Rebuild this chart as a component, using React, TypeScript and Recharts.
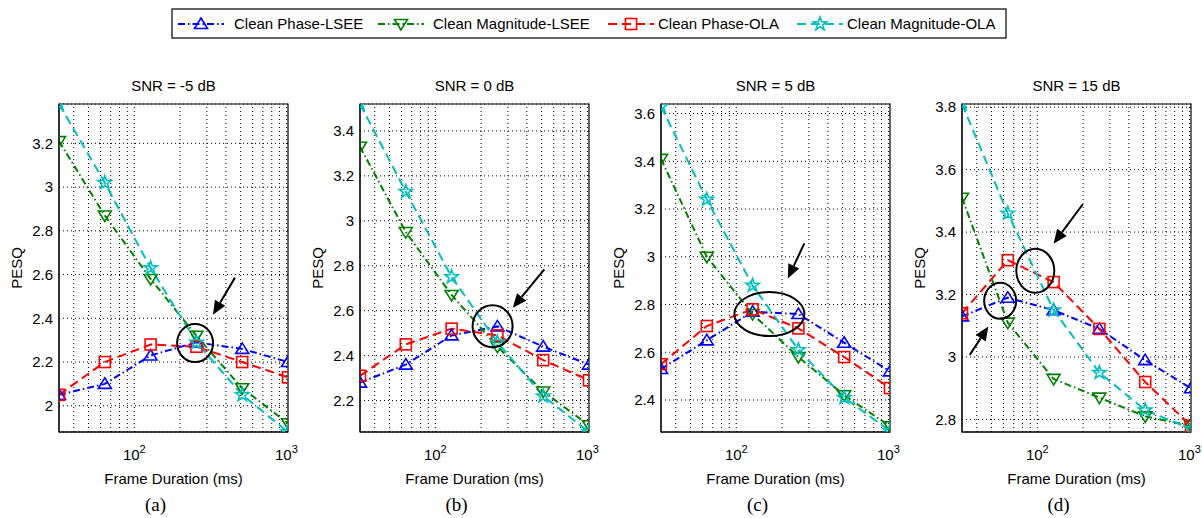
import { LineChart, Line, XAxis, YAxis, CartesianGrid, ReferenceLine, ReferenceDot, ReferenceArea } from 'recharts';

// frame durations (ms), log x axis
const FRAMES = [32, 64, 128, 256, 512, 1024];

const PANEL_TITLES = ['SNR = -5 dB', 'SNR = 0 dB', 'SNR = 5 dB', 'SNR = 15 dB'];
const PANEL_CAPTIONS = ['(a)', '(b)', '(c)', '(d)'];

// PESQ per panel (-5, 0, 5, 15 dB)
const PHASE_LSEE = [
  [2.05, 2.10, 2.23, 2.29, 2.26, 2.20],
  [2.28, 2.36, 2.49, 2.53, 2.44, 2.36],
  [2.53, 2.65, 2.77, 2.76, 2.64, 2.52],
  [3.13, 3.19, 3.15, 3.09, 2.99, 2.90],
];
const MAG_LSEE = [
  [3.21, 2.87, 2.58, 2.32, 2.08, 1.92],
  [3.33, 2.95, 2.67, 2.44, 2.24, 2.09],
  [3.41, 3.00, 2.76, 2.58, 2.42, 2.29],
  [3.51, 3.11, 2.93, 2.87, 2.81, 2.78],
];
const PHASE_OLA = [
  [2.05, 2.20, 2.28, 2.27, 2.20, 2.13],
  [2.31, 2.45, 2.52, 2.49, 2.38, 2.29],
  [2.55, 2.71, 2.78, 2.70, 2.58, 2.45],
  [3.14, 3.31, 3.24, 3.09, 2.92, 2.78],
];
const MAG_OLA = [
  [3.38, 3.02, 2.63, 2.29, 2.05, 1.88],
  [3.52, 3.13, 2.75, 2.46, 2.22, 2.06],
  [3.63, 3.24, 2.88, 2.61, 2.41, 2.27],
  [3.81, 3.46, 3.15, 2.95, 2.83, 2.77],
];

const Y_TICKS = [
  [2, 2.2, 2.4, 2.6, 2.8, 3, 3.2],
  [2.2, 2.4, 2.6, 2.8, 3, 3.2, 3.4],
  [2.4, 2.6, 2.8, 3, 3.2, 3.4, 3.6],
  [2.8, 3, 3.2, 3.4, 3.6, 3.8],
];
const Y_DOMAINS = [
  [1.88, 3.38],
  [2.06, 3.52],
  [2.266, 3.64],
  [2.76, 3.81],
];
const X_TICKS = [100, 1000];
const X_GRID = [40, 50, 60, 70, 80, 90, 100, 200, 300, 400, 500, 600, 700, 800, 900, 1000];

// highlight ellipses and arrows, in data coordinates
const ELLIPSES = [
  [{ x: 251, y: 2.287, rx: 18, ry: 19 }],
  [{ x: 238, y: 2.531, rx: 20, ry: 21 }],
  [{ x: 165, y: 2.76, rx: 35, ry: 22 }],
  [{ x: 97, y: 3.276, rx: 19, ry: 22 }, { x: 57, y: 3.18, rx: 16, ry: 18 }],
];
const ARROWS = [
  [{ from: [459, 2.586], to: [329, 2.416] }],
  [{ from: [521, 2.784], to: [323, 2.613] }],
  [{ from: [280, 3.056], to: [218, 2.909] }],
  [{ from: [199, 3.489], to: [128, 3.363] }, { from: [36, 3.007], to: [47.7, 3.098] }],
];

const SERIES = [
  { key: 'phaseLSEE', name: 'Clean Phase-LSEE', color: '#0000ff', dash: '7 3 1.5 3', marker: 'up', values: PHASE_LSEE },
  { key: 'magLSEE', name: 'Clean Magnitude-LSEE', color: '#008000', dash: '7 3 1.5 3', marker: 'down', values: MAG_LSEE },
  { key: 'phaseOLA', name: 'Clean Phase-OLA', color: '#ff0000', dash: '9 5', marker: 'square', values: PHASE_OLA },
  { key: 'magOLA', name: 'Clean Magnitude-OLA', color: '#00bfbf', dash: '9 5', marker: 'star', values: MAG_OLA },
];

const PLOT_LEFT = [59, 360, 661, 962];
const PLOT_W = 229;
const PLOT_TOP = 104;
const PLOT_BOTTOM = 432;
const Y_AXIS_W = 55;
const X_AXIS_H = 60;
const H = 518;

function starPoints(cx: number, cy: number, R: number, r: number) {
  const pts: string[] = [];
  for (let i = 0; i < 10; i++) {
    const rad = i % 2 === 0 ? R : r;
    const a = -Math.PI / 2 + (i * Math.PI) / 5;
    pts.push(`${cx + rad * Math.cos(a)},${cy + rad * Math.sin(a)}`);
  }
  return pts.join(' ');
}

function Marker({ type, cx, cy, color }: { type: string; cx: number; cy: number; color: string }) {
  if (cx == null || cy == null) return null;
  const sw = 1.6;
  if (type === 'up') {
    return <polygon points={`${cx},${cy - 6} ${cx - 6.5},${cy + 4.5} ${cx + 6.5},${cy + 4.5}`} fill="none" stroke={color} strokeWidth={sw} />;
  }
  if (type === 'down') {
    return <polygon points={`${cx},${cy + 6} ${cx - 6.5},${cy - 4.5} ${cx + 6.5},${cy - 4.5}`} fill="none" stroke={color} strokeWidth={sw} />;
  }
  if (type === 'square') {
    return <rect x={cx - 5.5} y={cy - 5.5} width={11} height={11} fill="none" stroke={color} strokeWidth={sw} />;
  }
  return <polygon points={starPoints(cx, cy, 7, 2.8)} fill="none" stroke={color} strokeWidth={sw} />;
}

const XTick = (props: any) => {
  const { x, y, payload } = props;
  const exp = Math.round(Math.log10(payload.value));
  return (
    <text x={x} y={y + 22} textAnchor="middle" fontSize={15} fill="#000">
      10<tspan dy={-7} fontSize={11}>{exp}</tspan>
    </text>
  );
};

const arrowShape = (p: any) => {
  const { x1, y1, x2, y2 } = p;
  if (x1 == null || x2 == null) return <g />;
  const ang = Math.atan2(y2 - y1, x2 - x1);
  const L = 14;
  const W = 6;
  const c = Math.cos(ang);
  const s = Math.sin(ang);
  const bx = x2 - L * c;
  const by = y2 - L * s;
  return (
    <g>
      <line x1={x1} y1={y1} x2={bx} y2={by} stroke="#000" strokeWidth={2} />
      <polygon points={`${x2},${y2} ${bx + W * s},${by - W * c} ${bx - W * s},${by + W * c}`} fill="#000" />
    </g>
  );
};

function Panel({ idx }: { idx: number }) {
  const data = FRAMES.map((f, i) => {
    const row: any = { frame: f };
    SERIES.forEach((s) => { row[s.key] = s.values[idx][i]; });
    return row;
  });
  const [yMin, yMax] = Y_DOMAINS[idx];

  return (
    <div style={{ position: 'absolute', left: PLOT_LEFT[idx] - Y_AXIS_W, top: 0 }}>
      <LineChart
        width={Y_AXIS_W + PLOT_W + 20}
        height={H}
        data={data}
        margin={{ top: PLOT_TOP, right: 20, bottom: H - PLOT_BOTTOM - X_AXIS_H, left: 0 }}
      >
        <CartesianGrid vertical={false} stroke="#000" strokeDasharray="1 3" />
        {X_GRID.map((v) => (
          <ReferenceLine key={`g${v}`} x={v} stroke="#000" strokeDasharray="1 3" />
        ))}
        <XAxis
          dataKey="frame"
          type="number"
          scale="log"
          domain={[32, 1024]}
          ticks={X_TICKS}
          allowDataOverflow
          height={X_AXIS_H}
          tickLine={false}
          tickSize={4}
          tickMargin={2}
          stroke="#000"
          tick={<XTick />}
          label={{ value: 'Frame Duration (ms)', position: 'insideBottom', offset: 8, fontSize: 15, fill: '#000' }}
        />
        <YAxis
          type="number"
          domain={[yMin, yMax]}
          ticks={Y_TICKS[idx]}
          allowDataOverflow
          width={Y_AXIS_W}
          tickLine={false}
          tickSize={4}
          tickMargin={2}
          stroke="#000"
          tick={{ fontSize: 15, fill: '#000' }}
          label={{ value: 'PESQ', angle: -90, position: 'insideLeft', offset: 13, fontSize: 15, fill: '#000', style: { textAnchor: 'middle' } }}
        />
        <ReferenceArea x1={32} x2={1024} y1={yMin} y2={yMax} fill="none" stroke="#000" strokeWidth={1.2} ifOverflow="visible" />
        {SERIES.map((s) => (
          <Line
            key={s.key}
            dataKey={s.key}
            name={s.name}
            type="linear"
            stroke={s.color}
            strokeWidth={2}
            strokeDasharray={s.dash}
            isAnimationActive={false}
            dot={(p: any) => <Marker key={`${s.key}-${p.index}`} type={s.marker} cx={p.cx} cy={p.cy} color={s.color} />}
            activeDot={false}
          />
        ))}
        {ELLIPSES[idx].map((e, i) => (
          <ReferenceDot
            key={`e${i}`}
            x={e.x}
            y={e.y}
            ifOverflow="visible"
            shape={(p: any) => <ellipse cx={p.cx} cy={p.cy} rx={e.rx} ry={e.ry} fill="none" stroke="#000" strokeWidth={2} />}
          />
        ))}
        {ARROWS[idx].map((a, i) => (
          <ReferenceLine
            key={`a${i}`}
            segment={[{ x: a.from[0], y: a.from[1] }, { x: a.to[0], y: a.to[1] }]}
            ifOverflow="visible"
            shape={arrowShape}
          />
        ))}
      </LineChart>
    </div>
  );
}

const LEGEND_SAMPLE_X = [178, 378, 608, 797];
const LEGEND_TEXT_X = [234, 433, 658, 847];

export default function App() {
  return (
    <div style={{ position: 'absolute', left: 0, top: 0, width: 1202, height: H, background: '#fff', fontFamily: '"Liberation Sans", Arial, sans-serif' }}>
      {PANEL_TITLES.map((_, i) => <Panel key={i} idx={i} />)}
      <svg width={1202} height={H} style={{ position: 'absolute', left: 0, top: 0, pointerEvents: 'none' }}>
        {/* legend */}
        <rect x={172} y={9} width={834} height={29} fill="#fff" stroke="#000" strokeWidth={1.2} />
        {SERIES.map((s, i) => {
          const x0 = LEGEND_SAMPLE_X[i];
          return (
            <g key={s.key}>
              <line x1={x0} y1={24} x2={x0 + 46} y2={24} stroke={s.color} strokeWidth={2} strokeDasharray={s.dash} />
              <Marker type={s.marker} cx={x0 + 23} cy={24} color={s.color} />
              <text x={LEGEND_TEXT_X[i]} y={29} fontSize={15} fill="#000">{s.name}</text>
            </g>
          );
        })}
        {PANEL_TITLES.map((t, i) => (
          <text key={t} x={PLOT_LEFT[i] + PLOT_W / 2} y={91} textAnchor="middle" fontSize={15} fill="#000">{t}</text>
        ))}
        {PANEL_CAPTIONS.map((c, i) => (
          <text key={c} x={PLOT_LEFT[i] + PLOT_W / 2 - 18} y={511} textAnchor="middle" fontSize={19} fill="#000" fontFamily='"Liberation Serif", "Times New Roman", serif'>{c}</text>
        ))}
      </svg>
    </div>
  );
}
